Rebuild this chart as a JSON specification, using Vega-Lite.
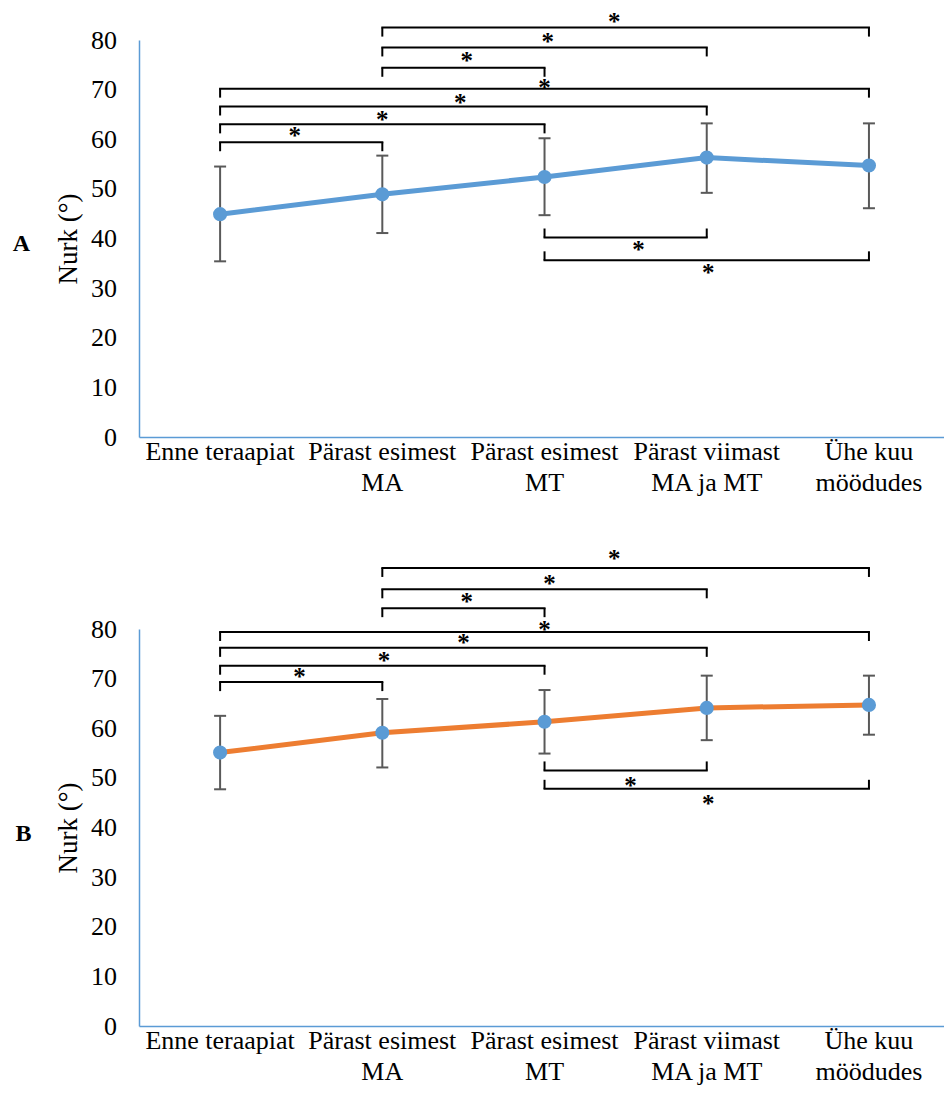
{
  "$schema": "https://vega.github.io/schema/vega-lite/v6.json",
  "background": "white",
  "padding": {"left": 12, "top": 9, "right": 0, "bottom": 0},
  "config": {
    "font": "Liberation Serif",
    "view": {"stroke": null},
    "axis": {
      "labelFont": "Liberation Serif", "titleFont": "Liberation Serif",
      "labelFontSize": 26, "titleFontSize": 27, "labelColor": "#000", "titleColor": "#000",
      "titleFontWeight": "normal", "grid": false, "ticks": false, "tickSize": 0,
      "domainColor": "#5B9BD5", "domainWidth": 1.5
    },
    "axisX": {"labels": false, "title": null},
    "axisY": {"values": [0, 10, 20, 30, 40, 50, 60, 70, 80], "labelPadding": 22.5, "titlePadding": 8}
  },
  "datasets": {
    "points": [
      {"panel": "A", "pos": 1, "cat": "Enne teraapiat", "mean": 44.9, "lo": 35.4, "hi": 54.5},
      {"panel": "A", "pos": 2, "cat": "Pärast esimest\nMA", "mean": 48.9, "lo": 41.1, "hi": 56.7},
      {"panel": "A", "pos": 3, "cat": "Pärast esimest\nMT", "mean": 52.4, "lo": 44.7, "hi": 60.2},
      {"panel": "A", "pos": 4, "cat": "Pärast viimast\nMA ja MT", "mean": 56.3, "lo": 49.2, "hi": 63.2},
      {"panel": "A", "pos": 5, "cat": "Ühe kuu\nmöödudes", "mean": 54.7, "lo": 46.1, "hi": 63.2},
      {"panel": "B", "pos": 1, "cat": "Enne teraapiat", "mean": 55.1, "lo": 47.7, "hi": 62.5},
      {"panel": "B", "pos": 2, "cat": "Pärast esimest\nMA", "mean": 59.1, "lo": 52.1, "hi": 65.9},
      {"panel": "B", "pos": 3, "cat": "Pärast esimest\nMT", "mean": 61.3, "lo": 54.9, "hi": 67.7},
      {"panel": "B", "pos": 4, "cat": "Pärast viimast\nMA ja MT", "mean": 64.1, "lo": 57.6, "hi": 70.6},
      {"panel": "B", "pos": 5, "cat": "Ühe kuu\nmöödudes", "mean": 64.7, "lo": 58.7, "hi": 70.6}
    ],
    "brackets": [
      {"panel": "A", "from": 2, "to": 5, "level": 82.5, "side": "above", "starPos": 3.43, "starVal": 84.3, "sig": "*"},
      {"panel": "A", "from": 2, "to": 4, "level": 78.5, "side": "above", "starPos": 3.02, "starVal": 80.3, "sig": "*"},
      {"panel": "A", "from": 2, "to": 3, "level": 74.4, "side": "above", "starPos": 2.52, "starVal": 76.3, "sig": "*"},
      {"panel": "A", "from": 1, "to": 5, "level": 70.2, "side": "above", "starPos": 3.0, "starVal": 71.0, "sig": "*"},
      {"panel": "A", "from": 1, "to": 4, "level": 66.6, "side": "above", "starPos": 2.48, "starVal": 68.0, "sig": "*"},
      {"panel": "A", "from": 1, "to": 3, "level": 63.0, "side": "above", "starPos": 2.0, "starVal": 64.4, "sig": "*"},
      {"panel": "A", "from": 1, "to": 2, "level": 59.4, "side": "above", "starPos": 1.46, "starVal": 61.2, "sig": "*"},
      {"panel": "A", "from": 3, "to": 4, "level": 40.2, "side": "below", "starPos": 3.58, "starVal": 38.2, "sig": "*"},
      {"panel": "A", "from": 3, "to": 5, "level": 35.6, "side": "below", "starPos": 4.01, "starVal": 33.6, "sig": "*"},
      {"panel": "B", "from": 2, "to": 5, "level": 92.3, "side": "above", "starPos": 3.43, "starVal": 94.7, "sig": "*"},
      {"panel": "B", "from": 2, "to": 4, "level": 88.0, "side": "above", "starPos": 3.03, "starVal": 89.6, "sig": "*"},
      {"panel": "B", "from": 2, "to": 3, "level": 84.2, "side": "above", "starPos": 2.52, "starVal": 86.0, "sig": "*"},
      {"panel": "B", "from": 1, "to": 5, "level": 79.4, "side": "above", "starPos": 3.0, "starVal": 80.4, "sig": "*"},
      {"panel": "B", "from": 1, "to": 4, "level": 76.2, "side": "above", "starPos": 2.5, "starVal": 77.8, "sig": "*"},
      {"panel": "B", "from": 1, "to": 3, "level": 72.6, "side": "above", "starPos": 2.01, "starVal": 74.2, "sig": "*"},
      {"panel": "B", "from": 1, "to": 2, "level": 69.3, "side": "above", "starPos": 1.49, "starVal": 71.0, "sig": "*"},
      {"panel": "B", "from": 3, "to": 4, "level": 51.5, "side": "below", "starPos": 3.53, "starVal": 49.0, "sig": "*"},
      {"panel": "B", "from": 3, "to": 5, "level": 47.8, "side": "below", "starPos": 4.01, "starVal": 45.4, "sig": "*"}
    ]
  },
  "bounds": "flush",
  "spacing": 192,
  "vconcat": [
    {
      "width": 807, "height": 397,
      "title": {"text": "A", "orient": "left", "angle": 0, "anchor": "middle", "frame": "group", "align": "right", "baseline": "middle", "offset": 7, "dy": 5, "fontSize": 24, "fontWeight": "bold", "font": "Liberation Serif", "color": "#000"},
      "layer": [
        {"data": {"name": "brackets"}, "transform": [{"filter": "datum.panel==='A'"}],
         "mark": {"type": "rule", "color": "#000", "strokeWidth": 2, "strokeCap": "square"},
         "encoding": {"x": {"field": "from", "type": "quantitative", "scale": {"domain": [0.5, 5.475], "nice": false, "zero": false}},
                      "x2": {"field": "to"},
                      "y": {"field": "level", "type": "quantitative", "scale": {"domain": [0, 80], "nice": false}, "title": "Nurk (°)"}}},
        {"data": {"name": "brackets"}, "transform": [{"filter": "datum.panel==='A' && datum.side==='above'"}, {"fold": ["from", "to"], "as": ["end", "endPos"]}],
         "mark": {"type": "rule", "color": "#000", "strokeWidth": 2, "y2Offset": 9},
         "encoding": {"x": {"field": "endPos", "type": "quantitative", "scale": {"domain": [0.5, 5.475], "nice": false, "zero": false}},
                      "y": {"field": "level", "type": "quantitative", "scale": {"domain": [0, 80], "nice": false}, "title": "Nurk (°)"},
                      "y2": {"field": "level"}}},
        {"data": {"name": "brackets"}, "transform": [{"filter": "datum.panel==='A' && datum.side==='below'"}, {"fold": ["from", "to"], "as": ["end", "endPos"]}],
         "mark": {"type": "rule", "color": "#000", "strokeWidth": 2, "y2Offset": -9},
         "encoding": {"x": {"field": "endPos", "type": "quantitative", "scale": {"domain": [0.5, 5.475], "nice": false, "zero": false}},
                      "y": {"field": "level", "type": "quantitative", "scale": {"domain": [0, 80], "nice": false}, "title": "Nurk (°)"},
                      "y2": {"field": "level"}}},
        {"data": {"name": "brackets"}, "transform": [{"filter": "datum.panel==='A'"}],
         "mark": {"type": "text", "font": "Liberation Serif", "fontSize": 25, "fontWeight": "bold", "color": "#000", "baseline": "alphabetic", "align": "center", "dy": 11},
         "encoding": {"x": {"field": "starPos", "type": "quantitative", "scale": {"domain": [0.5, 5.475], "nice": false, "zero": false}},
                      "y": {"field": "starVal", "type": "quantitative", "scale": {"domain": [0, 80], "nice": false}, "title": "Nurk (°)"},
                      "text": {"field": "sig"}}},
        {"data": {"name": "points"}, "transform": [{"filter": "datum.panel==='A'"}],
         "mark": {"type": "rule", "color": "#595959", "strokeWidth": 2},
         "encoding": {"x": {"field": "pos", "type": "quantitative", "scale": {"domain": [0.5, 5.475], "nice": false, "zero": false}},
                      "y": {"field": "lo", "type": "quantitative", "scale": {"domain": [0, 80], "nice": false}, "title": "Nurk (°)"},
                      "y2": {"field": "hi"}}},
        {"data": {"name": "points"}, "transform": [{"filter": "datum.panel==='A'"}, {"fold": ["lo", "hi"], "as": ["bound", "val"]}],
         "mark": {"type": "tick", "orient": "horizontal", "color": "#595959", "size": 12, "thickness": 2, "opacity": 1},
         "encoding": {"x": {"field": "pos", "type": "quantitative", "scale": {"domain": [0.5, 5.475], "nice": false, "zero": false}},
                      "y": {"field": "val", "type": "quantitative", "scale": {"domain": [0, 80], "nice": false}, "title": "Nurk (°)"}}},
        {"data": {"name": "points"}, "transform": [{"filter": "datum.panel==='A'"}],
         "mark": {"type": "line", "color": "#5B9BD5", "strokeWidth": 5},
         "encoding": {"x": {"field": "pos", "type": "quantitative", "scale": {"domain": [0.5, 5.475], "nice": false, "zero": false}},
                      "y": {"field": "mean", "type": "quantitative", "scale": {"domain": [0, 80], "nice": false}, "title": "Nurk (°)"}}},
        {"data": {"name": "points"}, "transform": [{"filter": "datum.panel==='A'"}],
         "mark": {"type": "circle", "color": "#5B9BD5", "size": 200, "opacity": 1},
         "encoding": {"x": {"field": "pos", "type": "quantitative", "scale": {"domain": [0.5, 5.475], "nice": false, "zero": false}},
                      "y": {"field": "mean", "type": "quantitative", "scale": {"domain": [0, 80], "nice": false}, "title": "Nurk (°)"}}},
        {"data": {"name": "points"}, "transform": [{"filter": "datum.panel==='A'"}],
         "mark": {"type": "text", "font": "Liberation Serif", "fontSize": 26, "color": "#000", "baseline": "top", "align": "center", "dy": 1.5, "lineBreak": "\n", "lineHeight": 31},
         "encoding": {"x": {"field": "pos", "type": "quantitative", "scale": {"domain": [0.5, 5.475], "nice": false, "zero": false}},
                      "y": {"datum": 0, "type": "quantitative", "scale": {"domain": [0, 80], "nice": false}, "title": "Nurk (°)"},
                      "text": {"field": "cat"}}}
      ]
    },
    {
      "width": 807, "height": 397,
      "title": {"text": "B", "orient": "left", "angle": 0, "anchor": "middle", "frame": "group", "align": "right", "baseline": "middle", "offset": 7, "dy": 6, "fontSize": 24, "fontWeight": "bold", "font": "Liberation Serif", "color": "#000"},
      "layer": [
        {"data": {"name": "brackets"}, "transform": [{"filter": "datum.panel==='B'"}],
         "mark": {"type": "rule", "color": "#000", "strokeWidth": 2, "strokeCap": "square"},
         "encoding": {"x": {"field": "from", "type": "quantitative", "scale": {"domain": [0.5, 5.475], "nice": false, "zero": false}},
                      "x2": {"field": "to"},
                      "y": {"field": "level", "type": "quantitative", "scale": {"domain": [0, 80], "nice": false}, "title": "Nurk (°)"}}},
        {"data": {"name": "brackets"}, "transform": [{"filter": "datum.panel==='B' && datum.side==='above'"}, {"fold": ["from", "to"], "as": ["end", "endPos"]}],
         "mark": {"type": "rule", "color": "#000", "strokeWidth": 2, "y2Offset": 9},
         "encoding": {"x": {"field": "endPos", "type": "quantitative", "scale": {"domain": [0.5, 5.475], "nice": false, "zero": false}},
                      "y": {"field": "level", "type": "quantitative", "scale": {"domain": [0, 80], "nice": false}, "title": "Nurk (°)"},
                      "y2": {"field": "level"}}},
        {"data": {"name": "brackets"}, "transform": [{"filter": "datum.panel==='B' && datum.side==='below'"}, {"fold": ["from", "to"], "as": ["end", "endPos"]}],
         "mark": {"type": "rule", "color": "#000", "strokeWidth": 2, "y2Offset": -9},
         "encoding": {"x": {"field": "endPos", "type": "quantitative", "scale": {"domain": [0.5, 5.475], "nice": false, "zero": false}},
                      "y": {"field": "level", "type": "quantitative", "scale": {"domain": [0, 80], "nice": false}, "title": "Nurk (°)"},
                      "y2": {"field": "level"}}},
        {"data": {"name": "brackets"}, "transform": [{"filter": "datum.panel==='B'"}],
         "mark": {"type": "text", "font": "Liberation Serif", "fontSize": 25, "fontWeight": "bold", "color": "#000", "baseline": "alphabetic", "align": "center", "dy": 11},
         "encoding": {"x": {"field": "starPos", "type": "quantitative", "scale": {"domain": [0.5, 5.475], "nice": false, "zero": false}},
                      "y": {"field": "starVal", "type": "quantitative", "scale": {"domain": [0, 80], "nice": false}, "title": "Nurk (°)"},
                      "text": {"field": "sig"}}},
        {"data": {"name": "points"}, "transform": [{"filter": "datum.panel==='B'"}],
         "mark": {"type": "rule", "color": "#595959", "strokeWidth": 2},
         "encoding": {"x": {"field": "pos", "type": "quantitative", "scale": {"domain": [0.5, 5.475], "nice": false, "zero": false}},
                      "y": {"field": "lo", "type": "quantitative", "scale": {"domain": [0, 80], "nice": false}, "title": "Nurk (°)"},
                      "y2": {"field": "hi"}}},
        {"data": {"name": "points"}, "transform": [{"filter": "datum.panel==='B'"}, {"fold": ["lo", "hi"], "as": ["bound", "val"]}],
         "mark": {"type": "tick", "orient": "horizontal", "color": "#595959", "size": 12, "thickness": 2, "opacity": 1},
         "encoding": {"x": {"field": "pos", "type": "quantitative", "scale": {"domain": [0.5, 5.475], "nice": false, "zero": false}},
                      "y": {"field": "val", "type": "quantitative", "scale": {"domain": [0, 80], "nice": false}, "title": "Nurk (°)"}}},
        {"data": {"name": "points"}, "transform": [{"filter": "datum.panel==='B'"}],
         "mark": {"type": "line", "color": "#ED7D31", "strokeWidth": 5},
         "encoding": {"x": {"field": "pos", "type": "quantitative", "scale": {"domain": [0.5, 5.475], "nice": false, "zero": false}},
                      "y": {"field": "mean", "type": "quantitative", "scale": {"domain": [0, 80], "nice": false}, "title": "Nurk (°)"}}},
        {"data": {"name": "points"}, "transform": [{"filter": "datum.panel==='B'"}],
         "mark": {"type": "circle", "color": "#5B9BD5", "size": 200, "opacity": 1},
         "encoding": {"x": {"field": "pos", "type": "quantitative", "scale": {"domain": [0.5, 5.475], "nice": false, "zero": false}},
                      "y": {"field": "mean", "type": "quantitative", "scale": {"domain": [0, 80], "nice": false}, "title": "Nurk (°)"}}},
        {"data": {"name": "points"}, "transform": [{"filter": "datum.panel==='B'"}],
         "mark": {"type": "text", "font": "Liberation Serif", "fontSize": 26, "color": "#000", "baseline": "top", "align": "center", "dy": 1.5, "lineBreak": "\n", "lineHeight": 31},
         "encoding": {"x": {"field": "pos", "type": "quantitative", "scale": {"domain": [0.5, 5.475], "nice": false, "zero": false}},
                      "y": {"datum": 0, "type": "quantitative", "scale": {"domain": [0, 80], "nice": false}, "title": "Nurk (°)"},
                      "text": {"field": "cat"}}}
      ]
    }
  ]
}
